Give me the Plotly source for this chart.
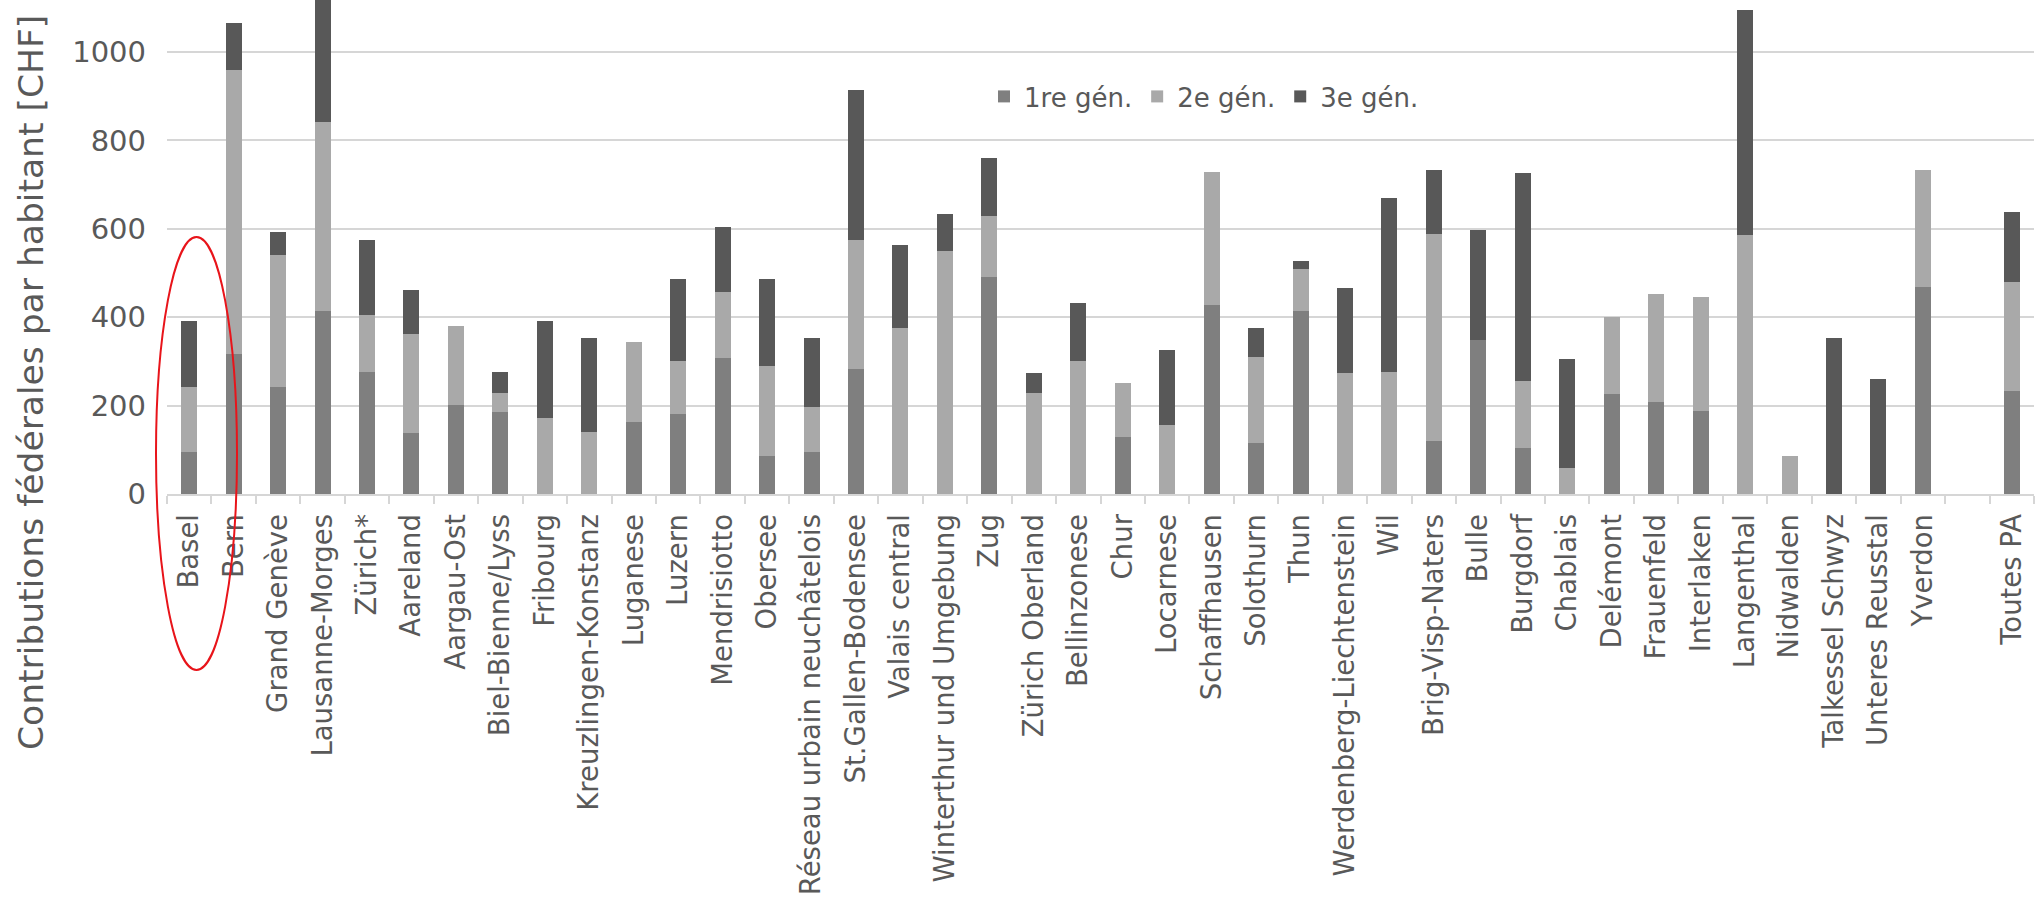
import plotly.graph_objects as go

categories = ["Basel", "Bern", "Grand Genève", "Lausanne-Morges", "Zürich*", "Aareland",
              "Aargau-Ost", "Biel-Bienne/Lyss", "Fribourg", "Kreuzlingen-Konstanz", "Luganese",
              "Luzern", "Mendrisiotto", "Obersee", "Réseau urbain neuchâtelois",
              "St.Gallen-Bodensee", "Valais central", "Winterthur und Umgebung", "Zug",
              "Zürich Oberland", "Bellinzonese", "Chur", "Locarnese", "Schaffhausen",
              "Solothurn", "Thun", "Werdenberg-Liechtenstein", "Wil", "Brig-Visp-Naters",
              "Bulle", "Burgdorf", "Chablais", "Delémont", "Frauenfeld", "Interlaken",
              "Langenthal", "Nidwalden", "Talkessel Schwyz", "Unteres Reusstal", "Yverdon",
              " ", "Toutes PA"]

gen1 = [95, 317, 241, 413, 277, 138, 202, 185, 0, 0,
        162, 182, 308, 85, 95, 283, 0, 0, 492, 0,
        0, 129, 0, 428, 115, 415, 0, 0, 121, 349,
        105, 0, 227, 209, 187, 0, 0, 0, 0, 468,
        None, 234]
gen2 = [146, 643, 300, 429, 129, 225, 177, 43, 172, 140,
        181, 119, 150, 204, 102, 291, 375, 549, 138, 228,
        300, 123, 155, 300, 195, 94, 274, 277, 467, 0,
        151, 59, 173, 244, 258, 587, 87, 0, 0, 266,
        None, 245]
gen3 = [151, 105, 52, 308, 168, 98, 0, 48, 220, 214,
        0, 185, 147, 197, 157, 339, 189, 84, 131, 46,
        133, 0, 171, 0, 65, 19, 192, 393, 144, 249,
        471, 246, 0, 0, 0, 508, 0, 353, 260, 0,
        None, 158]

series_names = ["1re gén.", "2e gén.", "3e gén."]
series_colors = ["#7f7f7f", "#a9a9a9", "#585858"]
y_ticks = [0, 200, 400, 600, 800, 1000]
y_title = "Contributions fédérales par habitant [CHF]"

FONT = "DejaVu Sans"
TXT = "#595959"
GRID = "#d6d6d6"

W, H = 2044, 898
L, R, T, B = 167, 10, 0, 404
plot_w = W - L - R
plot_h = H - T - B
px_per_unit = 0.442
y_top = plot_h / px_per_unit


def px_to_paper_x(px):
    return (px - L) / plot_w


def px_to_paper_y(py):
    return (T + plot_h - py) / plot_h


fig = go.Figure()
for name, vals, col in zip(series_names, [gen1, gen2, gen3], series_colors):
    fig.add_trace(go.Bar(x=categories, y=vals, name=name,
                         marker=dict(color=col, line=dict(width=0))))

fig.update_layout(
    width=W, height=H,
    barmode="stack", bargap=0.64,
    plot_bgcolor="white", paper_bgcolor="white",
    margin=dict(l=L, r=R, t=T, b=B, autoexpand=False),
    font=dict(family=FONT, color=TXT, size=27),
    showlegend=True,
    legend=dict(orientation="h", x=px_to_paper_x(984), xanchor="left",
                y=px_to_paper_y(96.5), yanchor="middle",
                font=dict(family=FONT, size=26, color=TXT),
                bgcolor="rgba(0,0,0,0)", traceorder="normal"),
    xaxis=dict(type="category", categoryorder="array", categoryarray=categories,
               tickangle=-90, tickson="boundaries", ticks="outside", ticklen=8,
               tickcolor=GRID, tickwidth=1.5, showline=True, linecolor=GRID, linewidth=2,
               showgrid=False, tickfont=dict(family=FONT, size=27.5, color=TXT),
               ticklabelstandoff=7),
    yaxis=dict(range=[0, y_top], tickvals=y_ticks, ticktext=[str(v) for v in y_ticks],
               showgrid=True, gridcolor=GRID, gridwidth=2, zeroline=False,
               showline=False, ticks="", tickfont=dict(family=FONT, size=29, color=TXT),
               ticklabelstandoff=20),
)

fig.add_annotation(text=y_title, textangle=-90, xref="paper", yref="paper",
                   x=px_to_paper_x(31), y=px_to_paper_y(383),
                   xanchor="center", yanchor="middle", showarrow=False,
                   font=dict(family=FONT, size=34.5, color=TXT))

fig.add_shape(type="circle", xref="paper", yref="paper",
              x0=px_to_paper_x(156), x1=px_to_paper_x(237),
              y0=px_to_paper_y(670), y1=px_to_paper_y(237),
              line=dict(color="#e8141a", width=2))

fig.write_html("out.html",
               config={"displayModeBar": False},
               post_script="document.body.style.margin='0px';"
                           "document.body.style.overflow='hidden';")
